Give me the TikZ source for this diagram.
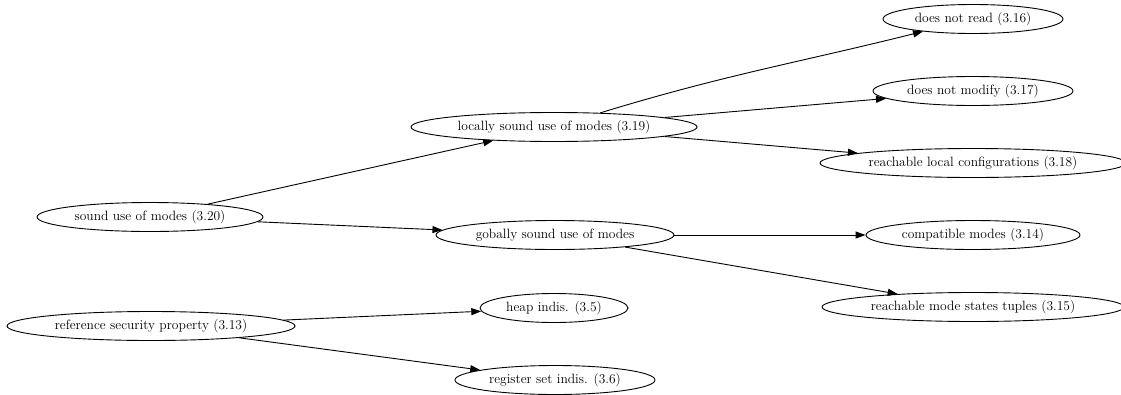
\documentclass[tikz,border=0pt]{standalone}
\usetikzlibrary{shapes.geometric,arrows.meta}
\begin{document}
\begin{tikzpicture}[x=1pt,y=-1pt,
  el/.style={draw,ellipse,line width=0.9pt,inner sep=0pt,minimum height=29pt,font=\fontsize{13.5}{15}\selectfont},
  arr/.style={line width=0.9pt,-{Triangle[length=10pt,width=7pt]}}]
\useasboundingbox (0,0) rectangle (1121,394);
\node[el,minimum width=226pt] (sound) at (150,217) {sound use of modes (3.20)};
\node[el,minimum width=288pt] (ref) at (151,326) {reference security property (3.13)};
\node[el,minimum width=286pt] (loc) at (554,127) {locally sound use of modes (3.19)};
\node[el,minimum width=238pt] (glob) at (555,235) {gobally sound use of modes};
\node[el,minimum width=148pt] (heap) at (554,308) {heap indis. (3.5)};
\node[el,minimum width=200pt] (reg) at (555,380) {register set indis. (3.6)};
\node[el,minimum width=180pt] (read) at (973,19) {does not read (3.16)};
\node[el,minimum width=200pt] (mod) at (973,91) {does not modify (3.17)};
\node[el,minimum width=306pt] (rlc) at (973,163) {reachable local configurations (3.18)};
\node[el,minimum width=214pt] (comp) at (973,235) {compatible modes (3.14)};
\node[el,minimum width=302pt] (rms) at (973,307) {reachable mode states tuples (3.15)};
\draw[arr] (sound) -- (loc);
\draw[arr] (sound) -- (glob);
\draw[arr] (loc) to[out=17,in=194] (read);
\draw[arr] (loc) -- (mod);
\draw[arr] (loc) -- (rlc);
\draw[arr] (glob) -- (comp);
\draw[arr] (glob) -- (rms);
\draw[arr] (ref) -- (heap);
\draw[arr] (ref) -- (reg);
\end{tikzpicture}
\end{document}
